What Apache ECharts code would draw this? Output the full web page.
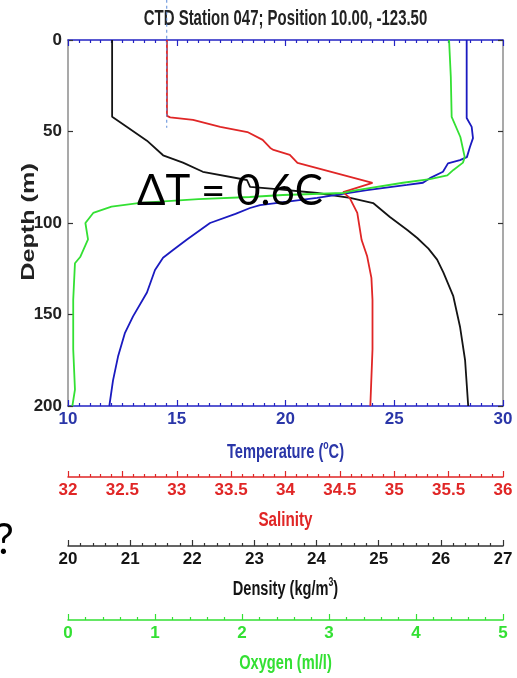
<!DOCTYPE html>
<html>
<head>
<meta charset="utf-8">
<style>html,body{margin:0;padding:0;background:#fff;}#c{width:517px;height:678px;}</style>
<script src="https://cdn.jsdelivr.net/npm/echarts@6/dist/echarts.min.js"></script>
</head>
<body>
<div id="c"></div>
<script>
// ---- data ----
const tempDepth = [0, 42.6, 47.5, 53.6, 58.5, 64, 65.6, 67.4, 72, 75.5, 78, 79.2, 82, 86.3, 90.2, 91.8, 95, 100, 109, 114.8, 119, 125.7, 138, 151, 160, 173, 186, 200];
const tempValues = [28.33, 28.33, 28.56, 28.62, 28.48, 28.34, 28.02, 27.47, 27.24, 26.64, 26.32, 25.59, 23.75, 21.45, 18.83, 18.37, 17.7, 16.53, 15.47, 14.83, 14.37, 14.0, 13.63, 12.99, 12.62, 12.30, 12.07, 11.90];

const salDepth = [0, 41.5, 42.3, 43.7, 47.5, 50.3, 54.6, 59, 60.1, 62.8, 67.2, 78.1, 83.1, 86.3, 94.5, 109.3, 118, 130, 142, 169, 200];
const salValues = [32.91, 32.91, 32.94, 33.15, 33.40, 33.65, 33.79, 33.86, 33.89, 34.04, 34.11, 34.80, 34.53, 34.59, 34.66, 34.70, 34.75, 34.79, 34.80, 34.80, 34.78];

const densDepth = [0, 42, 47.5, 55, 63, 67, 72, 76.5, 80.3, 81.5, 83.6, 86.3, 89.1, 96.7, 103.8, 108.2, 114, 120, 127, 140, 157, 175, 200];
const densValues = [20.71, 20.71, 20.95, 21.27, 21.53, 21.85, 22.17, 22.88, 22.93, 23.36, 24.01, 24.54, 24.91, 25.18, 25.46, 25.62, 25.80, 25.94, 26.04, 26.20, 26.31, 26.39, 26.44];

const oxyDepth = [0, 20, 42, 53, 64, 67, 71, 74, 76, 78, 82, 83.6, 84.7, 85.8, 87, 89, 91, 94.5, 100, 109, 118.6, 122, 142, 169, 191, 200];
const oxyValues = [4.38, 4.40, 4.41, 4.51, 4.56, 4.54, 4.43, 4.36, 4.16, 3.85, 3.32, 3.16, 2.47, 2.09, 1.50, 0.83, 0.50, 0.29, 0.20, 0.23, 0.14, 0.08, 0.06, 0.06, 0.08, 0.05];

// dashed reference line (temperature units, depth)
const refLineTemp = [14.54, 14.54];
const refLineDepth = [-22, 48];

const depthTicks = [0, 50, 100, 150, 200];
const tempTicks = [10, 15, 20, 25, 30];
const salTicks = [32, 32.5, 33, 33.5, 34, 34.5, 35, 35.5, 36];
const densTicks = [20, 21, 22, 23, 24, 25, 26, 27];
const oxyTicks = [0, 1, 2, 3, 4, 5];

const titleText = 'CTD Station 047; Position 10.00, -123.50';
const annotation = '\u0394T = 0.6C';

// ---- styling ----
const FONT = "'Liberation Sans',Arial,sans-serif";
const BLUE = '#2323c4', BLUE_T = '#2a36a8', RED = '#e02626', GREEN = '#33e033', BLACK = '#141414', GRAY = '#8c8c8c';

function zip(xs, ys) { return xs.map((x, i) => [x, ys[i]]); }

function xAxisDef(ticks, color, labelColor, minorSplit, offset, extra) {
  return Object.assign({
    type: 'value', gridIndex: 0, position: 'bottom', offset: offset,
    min: ticks[0], max: ticks[ticks.length - 1], interval: ticks[1] - ticks[0],
    axisLine: { show: true, onZero: false, lineStyle: { color: color, width: 1.5 } },
    axisTick: { show: true, inside: true, length: 6, lineStyle: { color: color, width: 1.2 } },
    minorTick: { show: true, splitNumber: minorSplit, length: 3, lineStyle: { color: color, width: 1.2 } },
    axisLabel: { show: true, margin: 5, color: labelColor, fontFamily: FONT, fontWeight: 'bold', fontSize: 17,
      formatter: v => String(v) },
    splitLine: { show: false }, minorSplitLine: { show: false }
  }, extra || {});
}

// the original figure's text is horizontally squeezed (narrow face)
function squeezedText(x, y, text, color, size, sq, rich) {
  const style = { text: text, fontFamily: FONT, fontWeight: 'bold', fontSize: size, fill: color, align: 'center', verticalAlign: 'middle' };
  if (rich) style.rich = rich;
  return { type: 'text', x: x, y: y, scaleX: sq, scaleY: 1, style: style };
}
function supRich(color) {
  return {
    a: { fontFamily: FONT, fontWeight: 'bold', fontSize: 20, fill: color, lineHeight: 22, verticalAlign: 'bottom' },
    s: { fontFamily: FONT, fontWeight: 'bold', fontSize: 12, fill: color, lineHeight: 22, verticalAlign: 'top' }
  };
}

const chart = echarts.init(document.getElementById('c'), null, { renderer: 'canvas' });

chart.setOption({
  animation: false,
  backgroundColor: '#ffffff',
  grid: { left: 68, right: 14, top: 40, height: 366 },
  xAxis: [
    xAxisDef(tempTicks, BLUE, BLUE_T, 10, 0),
    xAxisDef(tempTicks, BLUE, BLUE_T, 10, 0, { position: 'top', axisLabel: { show: false } }),
    xAxisDef(salTicks, RED, RED, 5, 71),
    xAxisDef(densTicks, '#333', BLACK, 5, 140),
    xAxisDef(oxyTicks, GREEN, GREEN, 5, 214)
  ],
  yAxis: [
    {
      type: 'value', inverse: true, min: depthTicks[0], max: depthTicks[depthTicks.length - 1],
      interval: depthTicks[1] - depthTicks[0], position: 'left',
      axisLine: { show: true, onZero: false, lineStyle: { color: GRAY, width: 1.5 } },
      axisTick: { show: true, inside: true, length: 5, lineStyle: { color: '#333', width: 1.2 } },
      axisLabel: { margin: 6, color: '#222', fontFamily: FONT, fontWeight: 'bold', fontSize: 17 },
      splitLine: { show: false }
    },
    {
      type: 'value', inverse: true, min: depthTicks[0], max: depthTicks[depthTicks.length - 1],
      interval: depthTicks[1] - depthTicks[0], position: 'right',
      axisLine: { show: true, onZero: false, lineStyle: { color: GRAY, width: 1.5 } },
      axisTick: { show: true, inside: true, length: 5, lineStyle: { color: '#333', width: 1.2 } },
      axisLabel: { show: false }, splitLine: { show: false }
    }
  ],
  series: [
    { name: 'Density', type: 'line', xAxisIndex: 3, yAxisIndex: 0, data: zip(densValues, densDepth),
      showSymbol: false, symbol: 'none', lineStyle: { color: BLACK, width: 1.8 }, z: 3 },
    { name: 'Temperature', type: 'line', xAxisIndex: 0, yAxisIndex: 0, data: zip(tempValues, tempDepth),
      showSymbol: false, symbol: 'none', lineStyle: { color: '#1a1ac0', width: 1.8 }, z: 4 },
    { name: 'Salinity', type: 'line', xAxisIndex: 2, yAxisIndex: 0, data: zip(salValues, salDepth),
      showSymbol: false, symbol: 'none', lineStyle: { color: RED, width: 1.8 }, z: 5 },
    { name: 'Oxygen', type: 'line', xAxisIndex: 4, yAxisIndex: 0, data: zip(oxyValues, oxyDepth),
      showSymbol: false, symbol: 'none', lineStyle: { color: GREEN, width: 1.8 }, z: 6 },
    { name: 'ref', type: 'line', xAxisIndex: 0, yAxisIndex: 0, data: zip(refLineTemp, refLineDepth),
      clip: false, showSymbol: false, symbol: 'none', lineStyle: { color: '#5a8ad8', width: 1, type: [3, 3] }, z: 7 }
  ],
  graphic: [
    squeezedText(285.5, 19, titleText, '#222', 22, 0.68),
    squeezedText(285.5, 451, '{a|Temperature (}{s|o}{a|C)}', BLUE_T, 20, 0.73, supRich(BLUE_T)),
    squeezedText(285.5, 520, 'Salinity', RED, 20, 0.76),
    squeezedText(285.5, 588, '{a|Density (kg/m}{s|3}{a|)}', BLACK, 20, 0.73, supRich(BLACK)),
    squeezedText(285.5, 663, 'Oxygen (ml/l)', GREEN, 20, 0.73),
    { type: 'text', x: 29, y: 222, rotation: Math.PI / 2, scaleX: 1.4, scaleY: 1,
      style: { text: 'Depth (m)', fontFamily: FONT, fontWeight: 'bold', fontSize: 18,
               fill: '#222', align: 'center', verticalAlign: 'middle' } },
    { type: 'text', x: 137, y: 191, z: 100,
      style: { text: annotation, fontFamily: "Lato,'Open Sans',sans-serif", fontSize: 42, fill: '#000', align: 'left', verticalAlign: 'middle' } },
    { type: 'text', x: -5, y: 540, z: 100,
      style: { text: '?', fontFamily: "Lato,'Open Sans',sans-serif", fontSize: 42, fill: '#000', align: 'left', verticalAlign: 'middle' } }
  ]
});
</script>
</body>
</html>
